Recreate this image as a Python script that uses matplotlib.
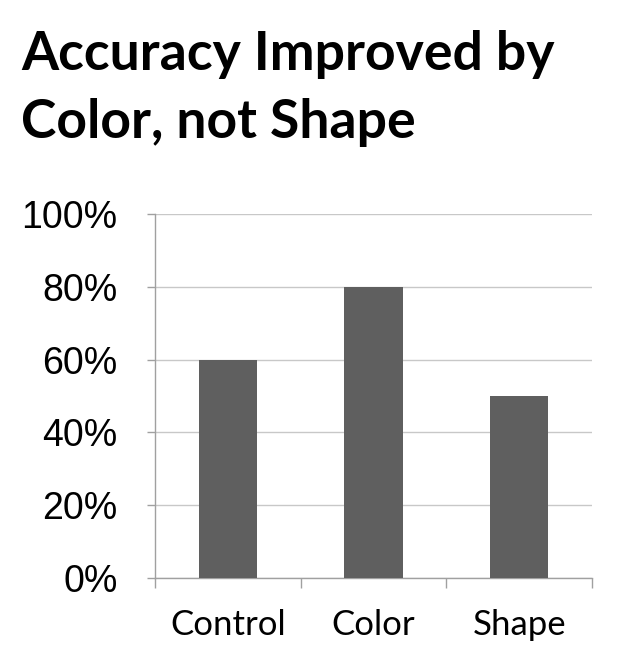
import matplotlib
matplotlib.use("Agg")
from matplotlib import pyplot as plt
from matplotlib.ticker import FixedLocator, PercentFormatter

categories = ["Control", "Color", "Shape"]
accuracy = [60, 80, 50]
y_ticks = [0, 20, 40, 60, 80, 100]

fig = plt.figure(figsize=(6.29, 6.66), dpi=100)
ax = fig.add_axes([155 / 629, 88 / 666, 437 / 629, 364 / 666])

x = list(range(len(categories)))
ax.bar(x, accuracy, width=0.4, color="#5f5f5f", zorder=3)

ax.set_xlim(-0.5, len(categories) - 0.5)
ax.set_ylim(0, 100)
ax.set_yticks(y_ticks)
ax.yaxis.set_major_formatter(PercentFormatter(decimals=0))
ax.grid(axis="y", color="#c8c8c8", linewidth=1, zorder=0)

ax.set_xticks(x)
ax.set_xticklabels(categories, fontfamily="Lato", fontsize=25)
ax.xaxis.set_minor_locator(FixedLocator([i - 0.5 for i in range(len(categories) + 1)]))
ax.tick_params(axis="x", which="major", length=0, pad=22)
ax.tick_params(axis="x", which="minor", length=7.5, color="#a0a0a0", width=1)
ax.tick_params(axis="y", length=6, color="#a0a0a0", width=1, pad=21,
               labelsize=27)
for lab in ax.get_yticklabels():
    lab.set_fontfamily("Liberation Sans")

for side in ["top", "right"]:
    ax.spines[side].set_visible(False)
for side in ["left", "bottom"]:
    ax.spines[side].set_color("#a0a0a0")
    ax.spines[side].set_linewidth(1)

fig.text(21 / 629, 1 - 30 / 666, "Accuracy Improved by\nColor, not Shape",
         fontfamily="Lato", fontweight="bold", fontsize=38.5,
         ha="left", va="top", linespacing=1.47)

plt.savefig("out.png", dpi=100)
